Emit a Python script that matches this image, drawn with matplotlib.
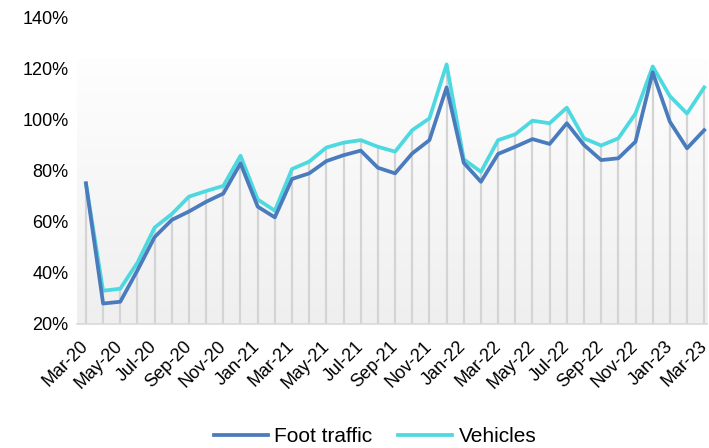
import matplotlib.pyplot as plt
import matplotlib.transforms as mtransforms
import numpy as np

months = ["Mar-20", "Apr-20", "May-20", "Jun-20", "Jul-20", "Aug-20", "Sep-20", "Oct-20",
          "Nov-20", "Dec-20", "Jan-21", "Feb-21", "Mar-21", "Apr-21", "May-21", "Jun-21",
          "Jul-21", "Aug-21", "Sep-21", "Oct-21", "Nov-21", "Dec-21", "Jan-22", "Feb-22",
          "Mar-22", "Apr-22", "May-22", "Jun-22", "Jul-22", "Aug-22", "Sep-22", "Oct-22",
          "Nov-22", "Dec-22", "Jan-23", "Feb-23", "Mar-23"]

foot = [75, 28, 28.7, 41, 54, 60.7, 64, 67.8, 71, 82.8, 65.9, 61.7, 76.7, 78.9, 83.7, 86,
        87.8, 81.1, 78.9, 86.7, 91.9, 112.5, 83, 75.6, 86.5, 89.3, 92.3, 90.4, 98.5, 90,
        84.1, 84.8, 91.3, 118.4, 99.1, 88.7, 95.8]
vehicles = [75, 33, 33.8, 44, 57.7, 63, 69.8, 72, 74, 85.8, 68.7, 64.3, 80.6, 83.5, 89, 90.9,
            91.9, 89.3, 87.4, 95.8, 100.4, 121.5, 84.4, 79.5, 91.9, 94.2, 99.5, 98.5, 104.6, 92.6,
            89.8, 92.6, 102.3, 120.7, 109.1, 102.3, 112.5]

plt.rcParams['font.family'] = ['Liberation Sans', 'DejaVu Sans']

fig = plt.figure(figsize=(7.09, 4.48), dpi=100)
ax = fig.add_axes([0.1086, 0.2768, 0.889, 0.685])

x = np.arange(len(months))
ax.set_xlim(-0.52, 36.18)
ax.set_ylim(20, 140)

# soft gradient background
grad = np.linspace(1, 0, 256).reshape(-1, 1)
ax.imshow(grad, cmap=plt.matplotlib.colors.LinearSegmentedColormap.from_list(
    "g", ["#efefef", "#fefefe"]), aspect="auto", extent=(-0.52, 36.18, 20, 124), zorder=0)

top = np.maximum(foot, vehicles)
ax.vlines(x, 20, top, color="#d4d4d4", lw=1.6, zorder=1)

ax.plot(x, foot, color="#4a7bbd", lw=2.7, label="Foot traffic", zorder=3, solid_joinstyle="round")
ax.plot(x, vehicles, color="#4dd9e0", lw=2.7, label="Vehicles", zorder=2, solid_joinstyle="round")

for s in ["top", "right", "left"]:
    ax.spines[s].set_visible(False)
ax.spines["bottom"].set_color("#d9d9d9")
ax.spines["bottom"].set_linewidth(1.2)

ax.set_yticks(range(20, 141, 20))
ax.set_yticklabels([f"{v}%" for v in range(20, 141, 20)], fontsize=13)
ax.set_xticks(x[::2])
ax.set_xticklabels(months[::2], rotation=45, ha="right", va="top", rotation_mode="anchor", fontsize=13)
ax.tick_params(axis="y", length=0, pad=6)
ax.tick_params(axis="x", length=0, pad=10)

# nudge x labels a little left, like the original
shift = mtransforms.ScaledTranslation(-6 / 100, 0, fig.dpi_scale_trans)
for lab in ax.get_xticklabels():
    lab.set_transform(lab.get_transform() + shift)

fig.legend(loc="center", bbox_to_anchor=(0.529, 0.025), ncol=2, frameon=False,
           fontsize=15, handlelength=2.6, handletextpad=0.29, columnspacing=1.25)

fig.savefig("out.png", dpi=100)
